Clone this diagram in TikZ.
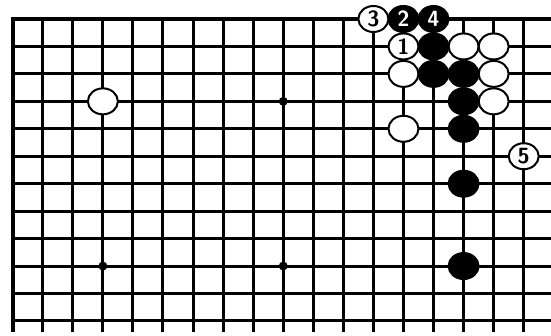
\documentclass[tikz,border=0pt]{standalone}
\usepackage{tikz}
\usetikzlibrary{shapes.geometric}
\tikzset{
  go line/.style={line width=3pt},
  go edge/.style={line width=4pt, line join=miter},
  go hoshi/.style={circle, fill=black, inner sep=0pt, minimum size=9pt},
  go stone/.style={ellipse, minimum width=30pt, minimum height=26pt, inner sep=0pt, line width=2pt, draw=black,
                   font=\fontsize{22}{22}\selectfont\bfseries\sffamily},
  go white/.style={go stone, fill=white, text=black},
  go black/.style={go stone, fill=black, text=white},
}

\begin{document}
\begin{tikzpicture}[x=30.06pt, y=-27.45pt]
  \useasboundingbox (-0.4225,-0.692) rectangle (17.908,11.548);
  % board lines, cut off at right and bottom
  \foreach \r in {1,...,11} \draw[go line] (0,\r) -- (18,\r);
  \foreach \c in {1,...,17} \draw[go line] (\c,0) -- (\c,11.4);
  \draw[go edge] (18,0) -- (0,0) -- (0,11.4);
  % star points
  \foreach \c/\r in {3/9, 9/3, 9/9} \node[go hoshi] (hoshi-\c-\r) at (\c,\r) {};
  % stones already on the board
  \foreach \c/\r in {3/3, 13/2, 15/1, 16/1, 16/2, 16/3, 13/4}
    \node[go white] (w-\c-\r) at (\c,\r) {};
  \foreach \c/\r in {14/1, 14/2, 15/2, 15/3, 15/4, 15/6, 15/9}
    \node[go black] (b-\c-\r) at (\c,\r) {};
  % numbered moves
  \node[go white] (mv1) at (13,1) {1};
  \node[go black] (mv2) at (13,0) {2};
  \node[go white] (mv3) at (12,0) {3};
  \node[go black] (mv4) at (14,0) {4};
  \node[go white] (mv5) at (17,5) {5};
\end{tikzpicture}
\end{document}
